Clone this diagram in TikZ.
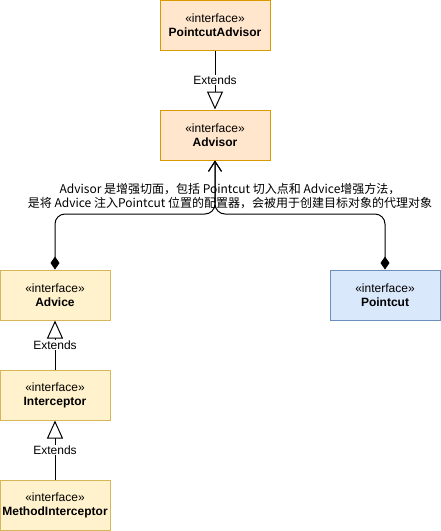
\documentclass[tikz,border=0pt]{standalone}
\usepackage{fontspec}
\setmainfont{Liberation Sans}
\newfontfamily\cjk{Noto Sans CJK SC}
\usetikzlibrary{arrows.meta}
\usetikzlibrary{calc}

\definecolor{orangefill}{HTML}{FFE6CC}
\definecolor{orangeline}{HTML}{D79B00}
\definecolor{yellowfill}{HTML}{FFF2CC}
\definecolor{yellowline}{HTML}{D6B656}
\definecolor{bluefill}{HTML}{DAE8FC}
\definecolor{blueline}{HTML}{6C8EBF}

\tikzset{
  iface/.style={rectangle,line width=1pt,minimum width=110pt,minimum height=50pt,
    inner sep=0pt,align=center,font=\fontsize{12}{14}\selectfont},
  orangebox/.style={iface,draw=orangeline,fill=orangefill},
  yellowbox/.style={iface,draw=yellowline,fill=yellowfill},
  bluebox/.style={iface,draw=blueline,fill=bluefill},
  extends/.style={line width=1pt,-{Triangle[open,length=18pt,width=16pt]}},
  composed/.style={line width=1pt,rounded corners=10pt,
    {Diamond[length=13pt,width=9pt]}-{Straight Barb[length=10pt,width=13pt]}},
  extlabel/.style={fill=white,inner sep=1pt,font=\fontsize{12}{14}\selectfont}
}

\begin{document}
\begin{tikzpicture}[x=1pt,y=-1pt]

\useasboundingbox (0,0) rectangle (441,531);

\newcommand{\ifacebox}[5]{
  \node[#4] (#1) at (#2,#3) {\guillemotleft interface\guillemotright\\ \textbf{#5}};
}

\ifacebox{pointcutadvisor}{215}{25}{orangebox}{PointcutAdvisor}
\ifacebox{advisor}{215}{135}{orangebox}{Advisor}

\ifacebox{advice}{55}{295}{yellowbox}{Advice}
\ifacebox{pointcut}{385}{295}{bluebox}{Pointcut}

\ifacebox{interceptor}{55}{395}{yellowbox}{Interceptor}
\ifacebox{methodinterceptor}{55}{505}{yellowbox}{MethodInterceptor}

% generalisation
\draw[extends] (pointcutadvisor.south) -- node[extlabel] {Extends} (advisor.north);
\draw[extends] (interceptor.north) -- node[extlabel] {Extends} (advice.south);
\draw[extends] (methodinterceptor.north) -- node[extlabel] {Extends} (interceptor.south);

% composition into the advisor
\coordinate (join) at (215,214);
\draw[composed] (advice.north) |- (join) -- (advisor.south);
\draw[composed] (pointcut.north) |- (join) -- (advisor.south);

\node[align=center,font=\cjk\fontsize{12}{14}\selectfont] (note) at (230,196)
  {Advisor 是增强切面，包括 Pointcut 切入点和 Advice增强方法，\\
   是将 Advice 注入Pointcut 位置的配置器，会被用于创建目标对象的代理对象};

\end{tikzpicture}
\end{document}
